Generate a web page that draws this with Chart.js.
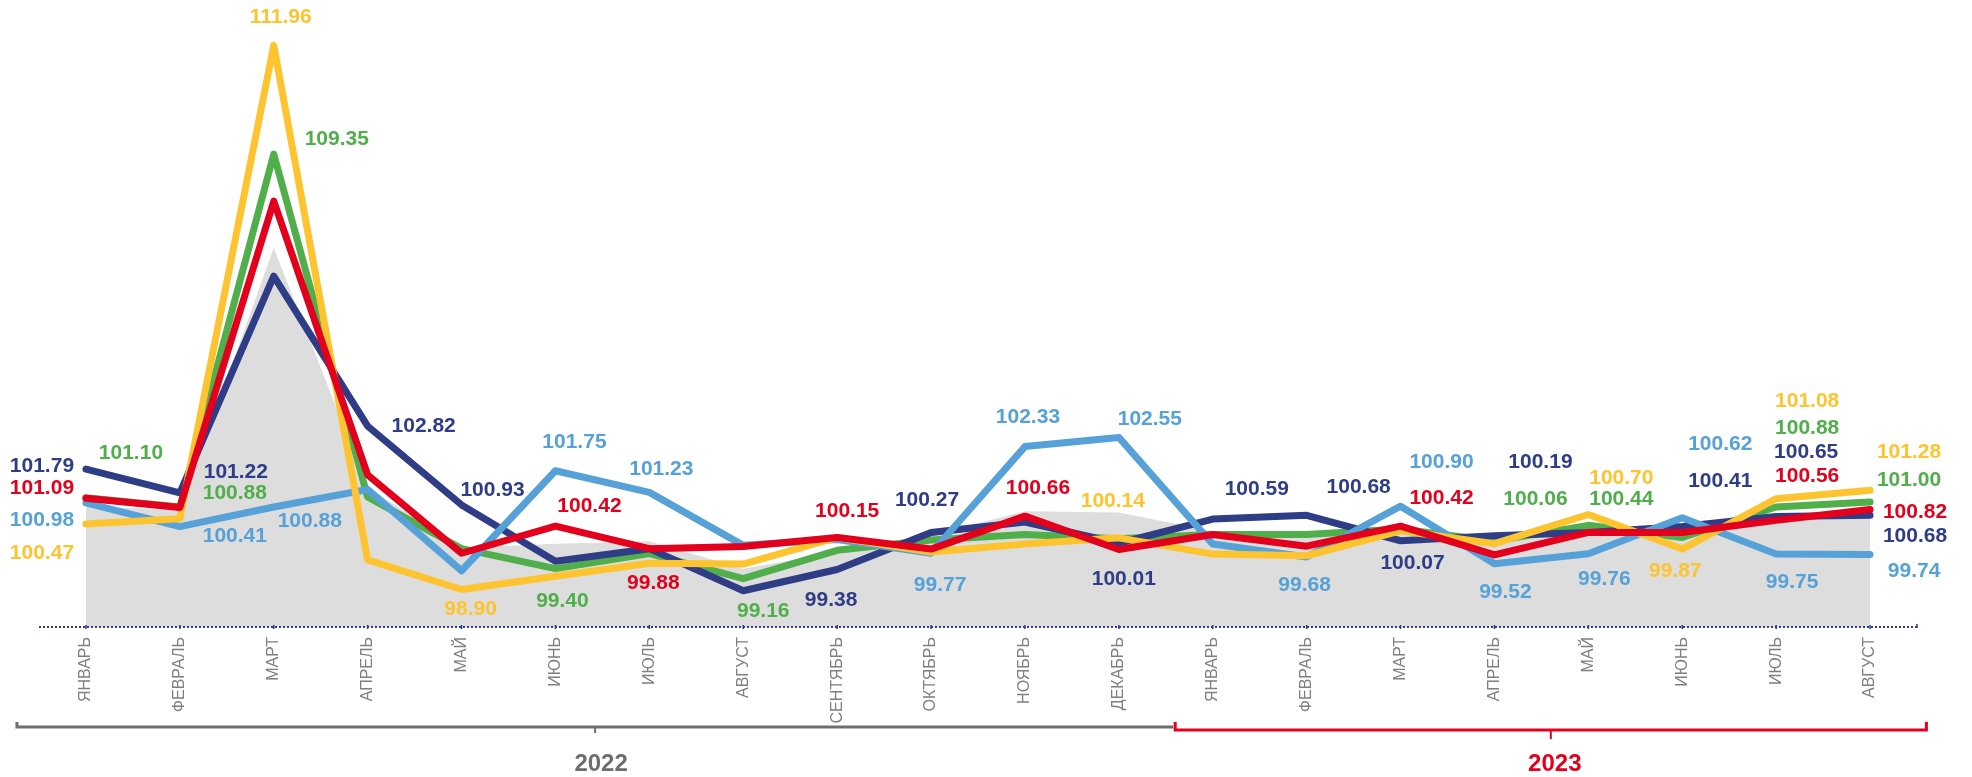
<!DOCTYPE html>
<html><head><meta charset="utf-8">
<script src="https://cdn.jsdelivr.net/npm/chart.js@4/dist/chart.umd.min.js"></script>
<style>html,body{margin:0;padding:0;background:#fff;}</style>
</head><body>
<canvas id="c" width="1972" height="777"></canvas>
<script>
// ---- data ----
const months = ['ЯНВАРЬ','ФЕВРАЛЬ','МАРТ','АПРЕЛЬ','МАЙ','ИЮНЬ','ИЮЛЬ','АВГУСТ','СЕНТЯБРЬ','ОКТЯБРЬ','НОЯБРЬ','ДЕКАБРЬ',
                'ЯНВАРЬ','ФЕВРАЛЬ','МАРТ','АПРЕЛЬ','МАЙ','ИЮНЬ','ИЮЛЬ','АВГУСТ'];
const years = ['2022', '2023'];
const yearFirstIndex = [0, 12];
const yearLastIndex = [11, 19];

const seriesNavy   = [101.79,101.22,106.42,102.82,100.93, 99.58, 99.88, 98.87, 99.38,100.27,100.52,100.01,100.59,100.68,100.07,100.19,100.27,100.41,100.65,100.68];
const seriesGreen  = [101.10,100.88,109.35,101.12, 99.88, 99.40, 99.76, 99.16, 99.84,100.09,100.22,100.12,100.22,100.22,100.35,100.06,100.44,100.15,100.88,101.00];
const seriesYellow = [100.47,100.60,111.96, 99.61, 98.90, 99.22, 99.53, 99.51,100.15, 99.80, 99.99,100.14, 99.75, 99.71,100.31,100.00,100.70, 99.87,101.08,101.28];
const seriesRed    = [101.09,100.87,108.22,101.65, 99.77,100.42, 99.88, 99.93,100.15, 99.87,100.66, 99.86,100.22, 99.94,100.42, 99.73,100.27,100.27,100.56,100.82];
const seriesBlue   = [100.98,100.41,100.88,101.30, 99.35,101.75,101.23, 99.96,100.10, 99.77,102.33,102.55, 99.99, 99.68,100.90, 99.52, 99.76,100.62, 99.75, 99.74];
const seriesGrey   = [100.90,100.80,107.10,101.35, 99.90,100.00,100.06, 99.40, 99.80,100.20,100.78,100.75,100.30,100.20,100.30,100.10,100.30,100.40,100.60,100.65];

// which values carry a label, with label offset from the point (layout only)
const lblNavy   = [[-44,-3],[56,-21],null,[56,0],[31,-15],null,null,null,[-6,31],[-4,-32],null,[5,36],[44,-30],[52,-28],[12,22],[46,-74],null,[38,-45],[30,-64],[45,21]];
const lblGreen  = [[45,-45],[55,-14],[63,-15],null,null,[7,33],null,[20,33],null,null,null,null,null,null,null,[41,-42],[33,-26],null,[31,-79],[39,-22]];
const lblYellow = [[-44,29],null,[7,-28],null,[9,20],null,null,null,null,null,null,[-6,-37],null,null,null,null,[33,-36],[-7,22],[31,-97],[39,-38]];
const lblRed    = [[-44,-10],null,null,null,null,[34,-20],[4,35],null,[10,-26],null,[13,-28],null,null,null,[41,-28],null,null,null,[31,-44],[45,3]];
const lblBlue   = [[-44,17],[55,10],[36,14],null,null,[19,-29],[12,-23],null,null,[9,32],[3,-29],[31,-18],null,[-2,28],[41,-44],[11,29],[16,26],[38,-74],[16,28],[44,17]];

const C = {navy:'#2F3C86', green:'#50AE4B', yellow:'#FDC42F', red:'#E2001C', blue:'#55A1D8', grey:'#DDDDDD',
           tick:'#7F7F7F', yr1:'#6E6E6E', yr2:'#E2001C'};

function lineDs(label, data, color, labels) {
  return {label, data, borderColor: color, backgroundColor: color, borderWidth: 7,
          pointRadius: 0, pointHoverRadius: 0, tension: 0, fill: false,
          borderJoinStyle: 'round', borderCapStyle: 'round', valueLabels: labels};
}

const valueLabels = {
  id: 'valueLabels',
  afterDatasetsDraw(chart) {
    const ctx = chart.ctx;
    chart.data.datasets.forEach((ds, di) => {
      if (!ds.valueLabels) return;
      const meta = chart.getDatasetMeta(di);
      ctx.save();
      ctx.font = 'bold 21px "Liberation Sans", Arial, sans-serif';
      ctx.fillStyle = ds.borderColor;
      ctx.textAlign = 'center';
      ctx.textBaseline = 'middle';
      ds.valueLabels.forEach((off, i) => {
        if (!off) return;
        const pt = meta.data[i];
        ctx.fillText(ds.data[i].toFixed(2), pt.x + off[0], pt.y + off[1]);
      });
      ctx.restore();
    });
  }
};

const axisDecor = {
  id: 'axisDecor',
  afterDraw(chart) {
    const ctx = chart.ctx, ca = chart.chartArea, xs = chart.scales.x;
    const yb = ca.bottom;
    // dotted axis line
    ctx.save();
    ctx.strokeStyle = C.navy;
    ctx.lineWidth = 2;
    ctx.setLineDash([2, 2]);
    ctx.beginPath(); ctx.moveTo(ca.left, yb); ctx.lineTo(ca.right, yb); ctx.stroke();
    ctx.setLineDash([]);
    ctx.lineWidth = 1.5;
    ctx.beginPath();
    for (let i = 0; i < months.length; i++) {
      const x = xs.getPixelForValue(i);
      ctx.moveTo(x, yb - 2); ctx.lineTo(x, yb + 2);
    }
    ctx.moveTo(ca.right, yb - 3); ctx.lineTo(ca.right, yb + 1);
    ctx.stroke();
    ctx.restore();

    // year brackets
    const step = xs.getPixelForValue(1) - xs.getPixelForValue(0);
    const specs = [
      {l: xs.getPixelForValue(yearFirstIndex[0]) - 0.735*step, r: xs.getPixelForValue(yearLastIndex[0]) + 0.58*step,
       y: yb + 100, color: C.yr1, hookL: 5, hookR: 0, down: 6, tdx: 6},
      {l: xs.getPixelForValue(yearFirstIndex[1]) - 0.40*step, r: xs.getPixelForValue(yearLastIndex[1]) + 0.60*step,
       y: yb + 103, color: C.yr2, hookL: 8, hookR: 8, down: 9, tdx: 4}
    ];
    specs.forEach((s, k) => {
      const mid = (s.l + s.r) / 2;
      ctx.save();
      ctx.strokeStyle = s.color;
      ctx.lineWidth = 3;
      ctx.lineJoin = 'miter';
      ctx.beginPath();
      ctx.moveTo(s.l, s.y - s.hookL); ctx.lineTo(s.l, s.y); ctx.lineTo(s.r, s.y); ctx.lineTo(s.r, s.y - s.hookR);
      ctx.stroke();
      ctx.lineWidth = 2;
      ctx.beginPath(); ctx.moveTo(mid, s.y); ctx.lineTo(mid, s.y + s.down); ctx.stroke();
      ctx.fillStyle = s.color;
      ctx.font = 'bold 24px "Liberation Sans", Arial, sans-serif';
      ctx.textAlign = 'center';
      ctx.textBaseline = 'middle';
      ctx.fillText(years[k], mid + s.tdx, yb + 137);
      ctx.restore();
    });
  }
};

new Chart(document.getElementById('c'), {
  type: 'line',
  data: {
    labels: months,
    datasets: [
      lineDs('Ряд 4', seriesRed, C.red, lblRed),
      lineDs('Ряд 3', seriesYellow, C.yellow, lblYellow),
      lineDs('Ряд 5', seriesBlue, C.blue, lblBlue),
      lineDs('Ряд 1', seriesNavy, C.navy, lblNavy),
      lineDs('Ряд 2', seriesGreen, C.green, lblGreen),
      {label: 'Фон', data: seriesGrey, borderWidth: 0, borderColor: 'rgba(0,0,0,0)', backgroundColor: C.grey,
       pointRadius: 0, tension: 0, fill: 'start'}
    ]
  },
  options: {
    responsive: false,
    animation: false,
    devicePixelRatio: 1,
    layout: {padding: {left: 39, right: 55, top: 2, bottom: 0}},
    plugins: {legend: {display: false}, tooltip: {enabled: false}},
    scales: {
      x: {
        type: 'category',
        offset: true,
        grid: {display: false, drawTicks: false},
        border: {display: false},
        ticks: {minRotation: 90, maxRotation: 90, autoSkip: false, padding: 10, color: C.tick,
                font: {family: '"Liberation Sans", Arial, sans-serif', size: 16}},
        afterFit(scale) { scale.height = 150; }
      },
      y: {display: false, min: 98, max: 113}
    }
  },
  plugins: [valueLabels, axisDecor]
});
</script>
</body></html>
